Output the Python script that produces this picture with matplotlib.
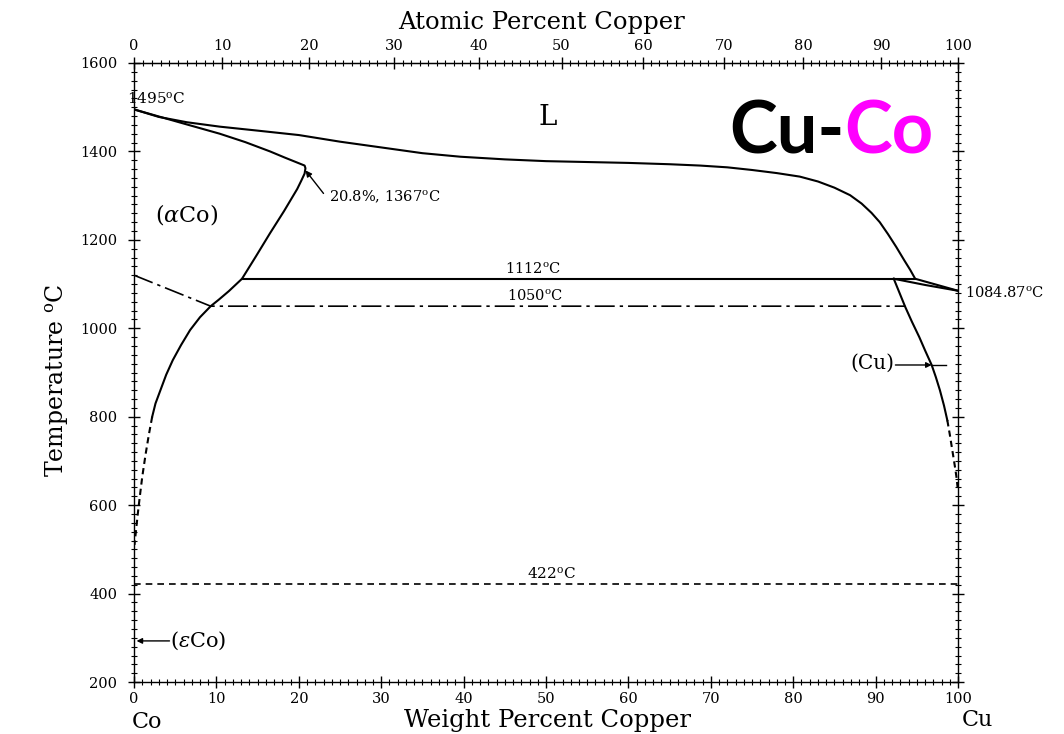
import numpy as np
import matplotlib
matplotlib.use("Agg")
import matplotlib.pyplot as plt
from matplotlib.ticker import MultipleLocator

plt.rcParams['font.family'] = ['DejaVu Serif']
plt.rcParams['mathtext.fontset'] = 'dejavuserif'

# ---------------- data (weight % Cu, temperature in degC) ----------------
liq_x = [0, 3, 6.4, 10.4, 15, 20, 25, 30, 35, 39.6, 45, 50, 55, 60, 65, 68.7, 72, 75, 78, 80.8,
         83, 85, 86.9, 88.3, 89.5, 90.5, 91.5, 92.5, 93.5, 94.2, 94.8, 100]
liq_T = [1495, 1478, 1466, 1456, 1447, 1437, 1422, 1409, 1396, 1388, 1382, 1378, 1376, 1374, 1371, 1368,
         1364, 1358, 1351, 1343, 1332, 1318, 1301, 1282, 1261, 1240, 1213, 1184, 1153, 1132, 1112, 1084.87]

aco_x = [0, 3, 6.4, 10.4, 13.5, 16.5, 18.3, 19.5, 20.3, 20.7, 20.8, 20.7, 20.3, 19.8, 18.2, 16.5, 14.8,
         13.1, 11.5, 10.3, 9.3, 8.0, 6.8, 5.7, 4.7, 3.9, 3.2, 2.6, 2.2]
aco_T = [1495, 1479, 1461, 1440, 1421, 1400, 1386, 1377, 1371, 1368, 1362, 1350, 1334, 1315, 1265, 1215,
         1163, 1112, 1084, 1065, 1050, 1025, 996, 962, 928, 895, 860, 830, 800]

aco_dash_x = [2.2, 1.8, 1.4, 1.0, 0.7, 0.45, 0.25, 0.05]
aco_dash_T = [800, 760, 715, 665, 620, 580, 545, 510]

cu_sol_x = [92.2, 96, 100]
cu_sol_T = [1112, 1098, 1084.87]

cu_solv_x = [92.2, 92.9, 93.6, 94.4, 95.3, 96.0, 96.8, 97.3, 97.8, 98.3, 98.7]
cu_solv_T = [1112, 1080, 1048, 1015, 980, 950, 917, 890, 860, 825, 792]
cu_solv_dash_x = [98.7, 99.0, 99.3, 99.6, 99.8, 99.95]
cu_solv_dash_T = [792, 760, 725, 690, 665, 640]

peritectic_x = [13.1, 94.8]
peritectic_T = [1112, 1112]

mag_x = [0, 9.3, 93.6]
mag_T = [1120, 1050, 1050]

eps_x = [0, 100]
eps_T = [422, 422]

bottom_ticks = [0, 10, 20, 30, 40, 50, 60, 70, 80, 90, 100]
top_ticks = [0, 10, 20, 30, 40, 50, 60, 70, 80, 90, 100]
temp_ticks = [200, 400, 600, 800, 1000, 1200, 1400, 1600]

M_CU = 63.546
M_CO = 58.933


def wt2at(w):
    w = np.clip(np.asarray(w, dtype=float), 0, 100)
    a = w / M_CU
    b = (100 - w) / M_CO
    return 100 * a / (a + b)


def at2wt(at):
    at = np.clip(np.asarray(at, dtype=float), 0, 100)
    a = at * M_CU
    b = (100 - at) * M_CO
    return 100 * a / (a + b)


W, H = 1064, 734
fig = plt.figure(figsize=(W / 100, H / 100), dpi=100)
ax = fig.add_axes([0.126, 0.0708, 0.7744, 0.8434])
ax.set_xlim(0, 100)
ax.set_ylim(200, 1600)

lw = 1.5
ax.plot(liq_x, liq_T, color='black', lw=lw, solid_joinstyle='round')
ax.plot(aco_x, aco_T, color='black', lw=lw, solid_joinstyle='round')
ax.plot(aco_dash_x, aco_dash_T, color='black', lw=lw, ls=(0, (3, 2)))
ax.plot(cu_sol_x, cu_sol_T, color='black', lw=lw)
ax.plot(cu_solv_x, cu_solv_T, color='black', lw=lw, solid_joinstyle='round')
ax.plot(cu_solv_dash_x, cu_solv_dash_T, color='black', lw=lw, ls=(0, (3, 2)))
ax.plot(peritectic_x, peritectic_T, color='black', lw=lw)
ax.plot(mag_x, mag_T, color='black', lw=1.2, ls=(0, (12, 3, 2, 3)))
ax.plot(eps_x, eps_T, color='black', lw=1.2, ls=(0, (4, 3)))

# ---------------- labels in the plot ----------------
ax.text(50.2, 1476, 'L', fontsize=20, ha='center', va='center', family='DejaVu Serif')
ax.text(6.4, 1258, r'($\alpha$Co)', fontsize=16, ha='center', va='center')
ax.text(-0.8, 1502, r'1495$^{\mathrm{o}}$C', fontsize=11, ha='left', va='bottom')
ax.text(23.6, 1297, r'20.8%, 1367$^{\mathrm{o}}$C', fontsize=10.5, ha='left', va='center')
ax.annotate('', xy=(20.6, 1362), xytext=(23.2, 1300),
            arrowprops=dict(arrowstyle='-|>', color='black', lw=1.0, mutation_scale=9))
ax.text(48.4, 1117, r'1112$^{\mathrm{o}}$C', fontsize=10.5, ha='center', va='bottom')
ax.text(48.7, 1055, r'1050$^{\mathrm{o}}$C', fontsize=10.5, ha='center', va='bottom')
ax.text(50.7, 427, r'422$^{\mathrm{o}}$C', fontsize=11, ha='center', va='bottom')
ax.text(100.8, 1078, r'1084.87$^{\mathrm{o}}$C', fontsize=10.5, ha='left', va='center', clip_on=False)
ax.text(89.6, 920, '(Cu)', fontsize=14.5, ha='center', va='center')
ax.annotate('', xy=(96.8, 917), xytext=(92.4, 917),
            arrowprops=dict(arrowstyle='-|>', color='black', lw=1.0, mutation_scale=8,
                            shrinkA=0, shrinkB=0))
ax.plot([96.8, 98.5], [917, 917], color='black', lw=1.0)
ax.text(4.4, 293, r'($\varepsilon$Co)', fontsize=15, ha='left', va='center')
ax.annotate('', xy=(0.3, 293), xytext=(4.3, 293),
            arrowprops=dict(arrowstyle='-|>', color='black', lw=1.0, mutation_scale=8,
                            shrinkA=0, shrinkB=0))

# ---------------- axes styling ----------------
for s in ax.spines.values():
    s.set_linewidth(1.0)
ax.set_xticks(bottom_ticks)
ax.set_yticks(temp_ticks)
ax.xaxis.set_minor_locator(MultipleLocator(1))
ax.yaxis.set_minor_locator(MultipleLocator(20))
ax.tick_params(which='major', direction='inout', length=8, width=1.0, labelsize=10.5,
               top=False, right=True)
ax.tick_params(axis='y', which='major', pad=8)
ax.tick_params(which='minor', direction='inout', length=4, width=0.8, top=False, right=True)

secax = ax.secondary_xaxis('top', functions=(wt2at, at2wt))
secax.set_xticks(top_ticks)
secax.xaxis.set_minor_locator(MultipleLocator(1))
secax.tick_params(which='major', direction='inout', length=8, width=1.0, labelsize=10.5, pad=3)
secax.tick_params(which='minor', direction='inout', length=4, width=0.8)

fig.text(541 / W, 1 - 22 / H, 'Atomic Percent Copper', fontsize=17.5, ha='center', va='center')
fig.text(548 / W, 1 - 720 / H, 'Weight Percent Copper', fontsize=17.5, ha='center', va='center')
fig.text(57 / W, 1 - 380 / H, r'Temperature $^{\mathrm{o}}$C', fontsize=17, ha='center', va='center',
         rotation=90)

fig.text(147 / W, 1 - 722 / H, 'Co', fontsize=16, ha='center', va='center')
fig.text(977 / W, 1 - 720 / H, 'Cu', fontsize=16, ha='center', va='center')

# ---------------- title "Cu-Co" ----------------
fig.canvas.draw()
r = fig.canvas.get_renderer()
t1 = fig.text(729 / W, 1 - 153 / H, 'Cu-', fontsize=52, fontweight='bold',
              family='Lato', color='black', ha='left', va='baseline')
bb = t1.get_window_extent(renderer=r)
fig.text(bb.x1 / W, 1 - 153 / H, 'Co', fontsize=52, fontweight='bold',
         family='Lato', color='#FF00FF', ha='left', va='baseline')

fig.savefig('out.png', dpi=100)
